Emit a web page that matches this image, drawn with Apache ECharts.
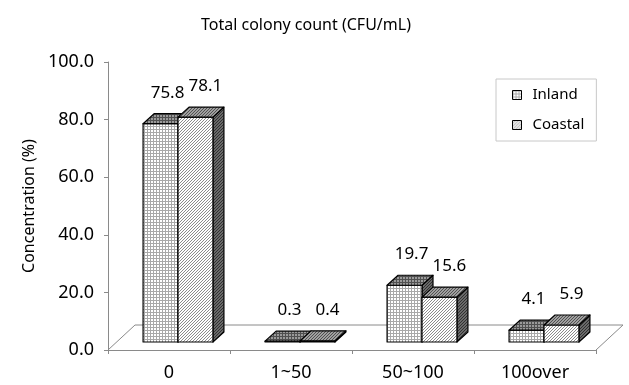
<!DOCTYPE html>
<html>
<head>
<meta charset="utf-8">
<script src="https://cdn.jsdelivr.net/npm/echarts@6/dist/echarts.min.js"></script>
<style>html,body{margin:0;padding:0;background:#fff}#c{width:629px;height:385px}</style>
</head>
<body>
<div id="c"></div>
<script>
const categories = ['0', '1~50', '50~100', '100over'];
const inland = [75.8, 0.3, 19.7, 4.1];
const coastal = [78.1, 0.4, 15.6, 5.9];
const seriesNames = ['Inland', 'Coastal'];
const titleText = 'Total colony count (CFU/mL)';
const yAxisName = 'Concentration (%)';

const FONT = 'Noto Sans';

function gridPattern(bg, fg, s) {
  const c = document.createElement('canvas'); c.width = s; c.height = s;
  const g = c.getContext('2d');
  g.fillStyle = bg; g.fillRect(0, 0, s, s);
  g.fillStyle = fg; g.fillRect(0, 0, s, 1); g.fillRect(0, 0, 1, s);
  return { image: c, repeat: 'repeat' };
}
function diagPattern(bg, fg, s) {
  const c = document.createElement('canvas'); c.width = s; c.height = s;
  const g = c.getContext('2d');
  g.fillStyle = bg; g.fillRect(0, 0, s, s);
  g.fillStyle = fg;
  for (let i = 0; i < s; i++) g.fillRect(i, s - 1 - i, 1, 1);
  return { image: c, repeat: 'repeat' };
}

const pats = [
  { front: gridPattern('#ffffff', '#a8a8a8', 3), top: gridPattern('#9a9a9a', '#505050', 3), side: diagPattern('#6a6a6a', '#303030', 3) },
  { front: diagPattern('#ffffff', '#8c8c8c', 3), top: diagPattern('#a0a0a0', '#505050', 3), side: diagPattern('#6a6a6a', '#303030', 3) }
];

const LIFT_X = 9, LIFT_Y = 8, DX = 11, DY = -10;
const FLOOR_DX = 27, FLOOR_DY = -25;
const LABEL_DX = [7, 10];

function makeRender(si) {
  return function (params, api) {
    const cat = api.value(0), v = api.value(1);
    const base = api.coord([cat, 0]);
    const top = api.coord([cat, v]);
    const band = api.size([1, 0])[0];
    const bw = band * 0.2863;
    const cx = base[0] + LIFT_X;
    const x0 = si === 0 ? cx - bw : cx;
    const x1 = x0 + bw;
    const yB = base[1] - LIFT_Y;
    const yT = top[1] - LIFT_Y;
    const stroke = { stroke: '#000', lineWidth: 1.2, lineJoin: 'round' };
    return {
      type: 'group',
      children: [
        { type: 'polygon', shape: { points: [[x1, yT], [x1 + DX, yT + DY], [x1 + DX, yB + DY], [x1, yB]] }, style: Object.assign({ fill: pats[si].side }, stroke) },
        { type: 'rect', shape: { x: x0, y: yT, width: bw, height: yB - yT }, style: Object.assign({ fill: pats[si].front }, stroke) },
        { type: 'polygon', shape: { points: [[x0, yT], [x0 + DX, yT + DY], [x1 + DX, yT + DY], [x1, yT]] }, style: Object.assign({ fill: pats[si].top }, stroke) },
        { type: 'text', style: { text: v.toFixed(1), x: (x0 + x1) / 2 + LABEL_DX[si], y: yT + DY - 21, align: 'center', verticalAlign: 'middle', font: '17px "' + FONT + '"', fill: '#000' } }
      ]
    };
  };
}

function floorRender(params, api) {
  const first = api.coord([0, 0]);
  const band = api.size([1, 0])[0];
  const L = first[0] - band / 2;
  const R = L + band * categories.length;
  const y0 = first[1];
  return {
    type: 'polyline',
    shape: { points: [[L, y0], [L + FLOOR_DX, y0 + FLOOR_DY], [R + FLOOR_DX, y0 + FLOOR_DY], [R, y0]] },
    style: { stroke: '#8a8a8a', lineWidth: 1, fill: null }
  };
}

const chart = echarts.init(document.getElementById('c'), null, { renderer: 'canvas' });
chart.setOption({
  animation: false,
  backgroundColor: '#fff',
  textStyle: { fontFamily: FONT },
  title: {
    text: titleText, left: 196, top: 12,
    textStyle: { fontFamily: FONT, fontSize: 16, fontWeight: 'normal', color: '#000' }
  },
  legend: {
    orient: 'vertical', left: 496, top: 79, width: 101,
    padding: [7, 12, 7, 16],
    backgroundColor: '#fff', borderColor: '#c8c8c8', borderWidth: 1,
    itemWidth: 9, itemHeight: 9, itemGap: 12,
    textStyle: { fontFamily: FONT, fontSize: 15, color: '#000', lineHeight: 18, padding: [0, 0, 0, 6] },
    data: [
      { name: seriesNames[0], icon: 'rect', itemStyle: { color: pats[0].front, borderColor: '#000', borderWidth: 1 } },
      { name: seriesNames[1], icon: 'rect', itemStyle: { color: pats[1].front, borderColor: '#000', borderWidth: 1 } }
    ]
  },
  grid: { left: 108, right: 33, top: 62, bottom: 35, containLabel: false },
  xAxis: {
    type: 'category', data: categories,
    axisLine: { lineStyle: { color: '#8a8a8a', width: 1 } },
    axisTick: { show: true, length: 4, lineStyle: { color: '#8a8a8a' } },
    axisLabel: { fontFamily: FONT, fontSize: 18, color: '#000', margin: 14 },
    splitLine: { show: false }
  },
  yAxis: {
    type: 'value', min: 0, max: 100, interval: 20,
    name: yAxisName, nameLocation: 'middle', nameGap: 69,
    nameTextStyle: { fontFamily: FONT, fontSize: 16, color: '#000' },
    axisLine: { show: true, lineStyle: { color: '#8a8a8a', width: 1 } },
    axisTick: { show: true, length: 4, lineStyle: { color: '#8a8a8a' } },
    axisLabel: { fontFamily: FONT, fontSize: 18, color: '#000', margin: 14, formatter: v => v.toFixed(1) },
    splitLine: { show: false }
  },
  series: [
    { type: 'custom', name: 'floor', silent: true, renderItem: floorRender, data: [[0, 0]], encode: { x: 0, y: 1 }, z: 1 },
    { type: 'custom', name: seriesNames[0], renderItem: makeRender(0), data: inland.map((v, i) => [i, v]), encode: { x: 0, y: 1 }, itemStyle: { color: pats[0].front }, z: 2 },
    { type: 'custom', name: seriesNames[1], renderItem: makeRender(1), data: coastal.map((v, i) => [i, v]), encode: { x: 0, y: 1 }, itemStyle: { color: pats[1].front }, z: 3 }
  ]
});
</script>
</body>
</html>
